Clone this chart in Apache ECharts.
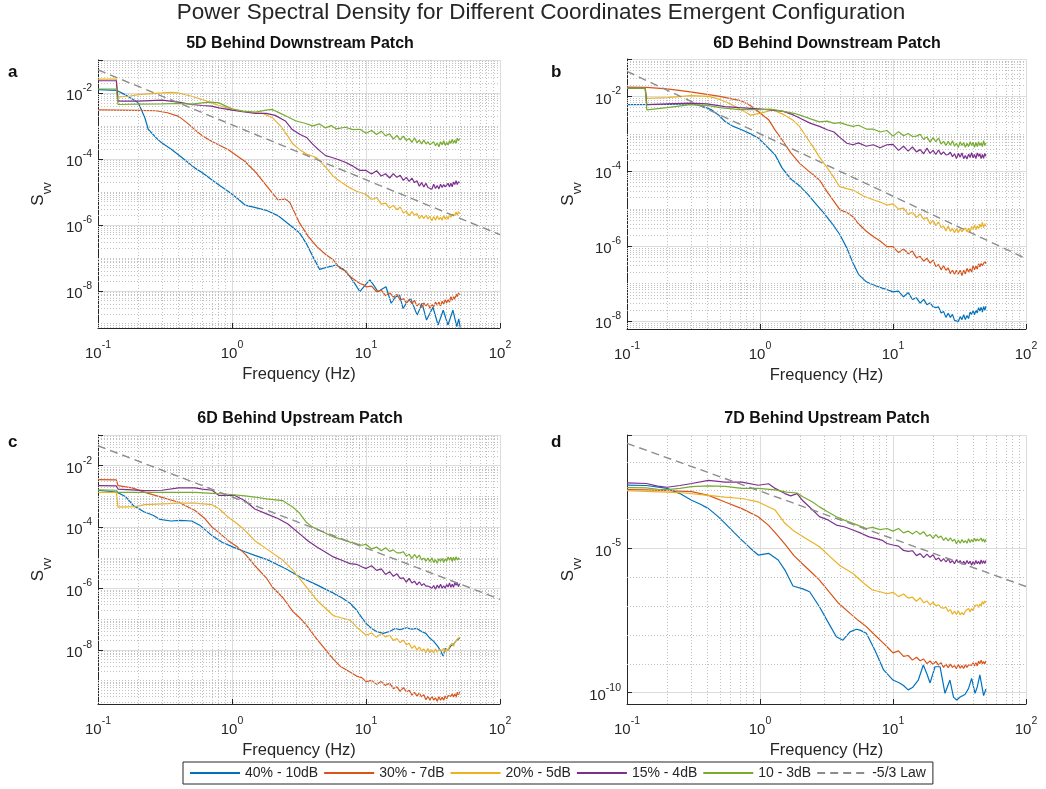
<!DOCTYPE html>
<html>
<head>
<meta charset="utf-8">
<script src="https://cdn.jsdelivr.net/npm/echarts@6/dist/echarts.min.js"></script>
<style>
html,body{margin:0;padding:0;background:#fff;}
#main{width:1046px;height:789px;}
</style>
</head>
<body>
<div id="main"></div>
<script>
// ---------------- DATA : [frequency (Hz), log10(S_vv)] ----------------
const SERIES_NAMES = ['40% - 10dB', '30% - 7dB', '20% - 5dB', '15% - 4dB', '10 - 3dB', '-5/3 Law'];
const PANEL_TITLES = ['5D Behind Downstream Patch', '6D Behind Downstream Patch', '6D Behind Upstream Patch', '7D Behind Upstream Patch'];
const PANEL_LETTERS = ['a', 'b', 'c', 'd'];
const X_TICK_EXPONENTS = [-1, 0, 1, 2];

// Panel a
const a_40 = [[0.1,-1.90],[0.137,-1.92],[0.159,-2.05],[0.2,-2.30],[0.224,-2.76],[0.237,-3.10],[0.27,-3.35],[0.3,-3.52],[0.35,-3.70],[0.4,-3.88],[0.46,-4.08],[0.53,-4.28],[0.6,-4.42],[0.71,-4.64],[0.82,-4.82],[0.94,-4.99],[1.1,-5.20],[1.25,-5.40],[1.5,-5.48],[1.8,-5.56],[2.2,-5.72],[2.6,-5.95],[3.2,-6.25],[3.6,-6.58],[4.0,-6.95],[4.5,-7.35],[5.0,-7.30],[6.0,-7.22],[6.8,-7.35],[7.6,-7.57],[8.3,-7.80],[9.0,-8.03],[10.0,-7.80],[10.7,-7.67],[11.5,-7.85],[12.3,-8.03],[13.2,-7.95],[14.1,-7.88],[15.4,-8.38],[16.5,-8.20],[17.8,-8.13],[18.9,-8.54],[20.2,-8.35],[21.5,-8.23],[24.1,-8.74],[26.2,-8.38],[28.3,-8.89],[31.6,-8.50],[34.5,-9.04],[37.7,-8.59],[40.9,-9.04],[44.5,-8.59],[47.6,-9.09],[49.2,-8.85],[50.5,-9.12]];
const a_30 = [[0.1,-2.51],[0.14,-2.52],[0.2,-2.53],[0.27,-2.54],[0.33,-2.60],[0.4,-2.71],[0.46,-2.90],[0.53,-3.12],[0.6,-3.30],[0.71,-3.47],[0.82,-3.60],[0.94,-3.72],[1.1,-3.92],[1.25,-4.08],[1.5,-4.40],[1.8,-4.80],[2.2,-5.24],[2.5,-5.22],[2.7,-5.32],[3.2,-5.95],[3.7,-6.35],[4.3,-6.66],[5.0,-6.90],[5.7,-7.06],[6.4,-7.32],[7.0,-7.40],[7.6,-7.57],[8.3,-7.68],[9.0,-7.78],[9.6,-7.82],[10,-7.88],[11,-7.86],[12,-8.03],[13,-7.98],[14,-8.15],[15,-8.06],[16,-8.19],[17,-8.11],[18,-8.29],[19,-8.24],[20,-8.37],[21,-8.27],[22,-8.39],[23,-8.29],[24,-8.46],[25,-8.39],[26,-8.51],[27,-8.37],[28,-8.46],[29,-8.39],[30,-8.53],[31,-8.41],[32,-8.49],[33,-8.34],[34,-8.44],[35,-8.34],[36,-8.46],[37,-8.32],[38,-8.41],[39,-8.27],[40,-8.36],[41,-8.27],[42,-8.35],[43,-8.18],[44,-8.29],[45,-8.18],[46,-8.26],[47,-8.10],[48,-8.18],[49,-8.07],[50,-8.12]];
const a_20 = [[0.1,-1.58],[0.137,-1.58],[0.141,-2.12],[0.17,-2.10],[0.2,-2.05],[0.25,-2.02],[0.3,-2.00],[0.35,-1.98],[0.4,-2.00],[0.5,-2.10],[0.6,-2.20],[0.7,-2.30],[0.8,-2.38],[1.0,-2.50],[1.2,-2.55],[1.45,-2.60],[1.7,-2.62],[2.0,-2.75],[2.3,-3.00],[2.6,-3.30],[2.85,-3.55],[3.2,-3.72],[3.6,-3.85],[4.3,-3.97],[5.0,-4.25],[5.7,-4.53],[6.5,-4.70],[7.6,-4.88],[8.5,-4.98],[10,-5.08],[11,-5.23],[12,-5.17],[13,-5.37],[14,-5.34],[15,-5.49],[16,-5.41],[17,-5.54],[18,-5.46],[19,-5.64],[20,-5.59],[21,-5.72],[22,-5.60],[23,-5.71],[24,-5.66],[25,-5.81],[26,-5.71],[27,-5.81],[28,-5.70],[29,-5.82],[30,-5.74],[31,-5.88],[32,-5.75],[33,-5.86],[34,-5.73],[35,-5.84],[36,-5.77],[37,-5.86],[38,-5.71],[39,-5.83],[40,-5.74],[41,-5.83],[42,-5.69],[43,-5.77],[44,-5.68],[45,-5.74],[46,-5.70],[47,-5.61],[48,-5.71],[49,-5.60],[50,-5.66]];
const a_15 = [[0.1,-1.63],[0.137,-1.63],[0.141,-2.25],[0.2,-2.25],[0.3,-2.22],[0.4,-2.28],[0.5,-2.35],[0.6,-2.38],[0.7,-2.40],[0.8,-2.45],[1.0,-2.52],[1.2,-2.57],[1.5,-2.62],[1.8,-2.62],[2.1,-2.68],[2.5,-2.85],[2.8,-3.10],[3.2,-3.25],[3.6,-3.35],[4.0,-3.55],[4.5,-3.75],[5.0,-3.90],[5.5,-3.95],[6.2,-4.02],[7,-4.10],[8,-4.22],[9,-4.35],[10,-4.35],[11,-4.46],[12,-4.36],[13,-4.52],[14,-4.45],[15,-4.58],[16,-4.45],[17,-4.56],[18,-4.50],[19,-4.65],[20,-4.56],[21,-4.68],[22,-4.58],[23,-4.72],[24,-4.66],[25,-4.83],[26,-4.72],[27,-4.85],[28,-4.74],[29,-4.87],[30,-4.82],[31,-4.92],[32,-4.77],[33,-4.90],[34,-4.81],[35,-4.91],[36,-4.77],[37,-4.87],[38,-4.78],[39,-4.85],[40,-4.82],[41,-4.74],[42,-4.85],[43,-4.74],[44,-4.85],[45,-4.70],[46,-4.78],[47,-4.66],[48,-4.78],[49,-4.69],[50,-4.72]];
const a_10 = [[0.1,-1.88],[0.137,-1.88],[0.141,-2.35],[0.2,-2.34],[0.3,-2.33],[0.4,-2.32],[0.5,-2.34],[0.6,-2.30],[0.7,-2.28],[0.8,-2.30],[0.9,-2.40],[1.0,-2.48],[1.2,-2.55],[1.5,-2.58],[1.8,-2.52],[2.0,-2.50],[2.3,-2.62],[2.6,-2.72],[3.0,-2.85],[3.5,-2.92],[4.0,-3.00],[4.5,-2.94],[5.0,-3.06],[5.5,-2.99],[6,-3.09],[7,-3.04],[8,-3.11],[9,-3.10],[10,-3.22],[11,-3.14],[12,-3.26],[13,-3.16],[14,-3.30],[15,-3.24],[16,-3.40],[17,-3.29],[18,-3.42],[19,-3.31],[20,-3.44],[21,-3.38],[22,-3.50],[23,-3.36],[24,-3.51],[25,-3.43],[26,-3.55],[27,-3.43],[28,-3.55],[29,-3.48],[30,-3.57],[31,-3.55],[32,-3.48],[33,-3.60],[34,-3.51],[35,-3.63],[36,-3.48],[37,-3.57],[38,-3.45],[39,-3.59],[40,-3.50],[41,-3.58],[42,-3.45],[43,-3.53],[44,-3.40],[45,-3.53],[46,-3.43],[47,-3.53],[48,-3.37],[49,-3.45],[50,-3.38]];
const a_law = [[0.1,-1.30],[100,-6.30]];

// Panel b
const b_40 = [[0.1,-2.22],[0.2,-2.21],[0.306,-2.20],[0.37,-2.26],[0.434,-2.36],[0.49,-2.50],[0.546,-2.67],[0.63,-2.80],[0.728,-2.89],[0.85,-3.00],[0.97,-3.11],[1.1,-3.30],[1.3,-3.56],[1.46,-3.90],[1.7,-4.20],[2.0,-4.40],[2.3,-4.62],[2.6,-4.85],[3.0,-5.10],[3.5,-5.40],[4.0,-5.70],[4.5,-6.05],[5.0,-6.45],[5.5,-6.75],[6.3,-6.95],[7,-7.02],[8,-7.10],[9,-7.16],[10,-7.22],[11,-7.20],[12,-7.35],[13,-7.24],[14,-7.42],[15,-7.38],[16,-7.52],[17,-7.42],[18,-7.56],[19,-7.51],[20,-7.62],[21,-7.64],[22,-7.62],[23,-7.78],[24,-7.74],[25,-7.90],[26,-7.79],[27,-7.90],[28,-7.82],[29,-7.98],[30,-7.93],[31,-8.01],[32,-7.88],[33,-7.96],[34,-7.83],[35,-7.96],[36,-7.85],[37,-7.93],[38,-7.76],[39,-7.82],[40,-7.72],[41,-7.83],[42,-7.71],[43,-7.78],[44,-7.64],[45,-7.73],[46,-7.63],[47,-7.76],[48,-7.61],[49,-7.71],[50,-7.60]];
const b_30 = [[0.1,-1.75],[0.14,-1.76],[0.2,-1.80],[0.3,-1.88],[0.41,-1.95],[0.5,-2.00],[0.6,-2.06],[0.73,-2.12],[0.85,-2.25],[0.97,-2.40],[1.16,-2.62],[1.3,-2.90],[1.46,-3.15],[1.7,-3.50],[1.98,-3.78],[2.3,-3.98],[2.8,-4.23],[3.2,-4.55],[3.6,-4.80],[4.0,-5.03],[4.5,-5.10],[5.0,-5.21],[5.5,-5.40],[6.3,-5.60],[7.1,-5.74],[8,-5.86],[9,-6.01],[10,-6.01],[11,-6.17],[12,-6.07],[13,-6.20],[14,-6.13],[15,-6.31],[16,-6.27],[17,-6.40],[18,-6.32],[19,-6.45],[20,-6.37],[21,-6.54],[22,-6.49],[23,-6.63],[24,-6.52],[25,-6.64],[26,-6.58],[27,-6.73],[28,-6.64],[29,-6.75],[30,-6.64],[31,-6.74],[32,-6.64],[33,-6.78],[34,-6.64],[35,-6.74],[36,-6.59],[37,-6.69],[38,-6.60],[39,-6.69],[40,-6.52],[41,-6.63],[42,-6.53],[43,-6.61],[44,-6.47],[45,-6.55],[46,-6.46],[47,-6.52],[48,-6.48],[49,-6.40],[50,-6.47]];
const b_20 = [[0.1,-1.78],[0.137,-1.78],[0.141,-2.05],[0.2,-2.03],[0.3,-1.98],[0.41,-2.00],[0.5,-2.08],[0.6,-2.20],[0.73,-2.36],[0.85,-2.50],[1.0,-2.45],[1.25,-2.36],[1.5,-2.48],[1.75,-2.62],[1.98,-2.80],[2.2,-3.05],[2.5,-3.34],[2.8,-3.62],[3.15,-3.87],[3.5,-4.10],[3.97,-4.41],[4.5,-4.46],[5.0,-4.50],[6,-4.66],[7.1,-4.76],[8,-4.82],[9,-4.90],[10,-4.87],[11,-5.01],[12,-4.98],[13,-5.15],[14,-5.09],[15,-5.23],[16,-5.14],[17,-5.28],[18,-5.23],[19,-5.40],[20,-5.31],[21,-5.45],[22,-5.35],[23,-5.50],[24,-5.46],[25,-5.59],[26,-5.46],[27,-5.60],[28,-5.53],[29,-5.64],[30,-5.53],[31,-5.63],[32,-5.54],[33,-5.61],[34,-5.58],[35,-5.51],[36,-5.62],[37,-5.52],[38,-5.62],[39,-5.47],[40,-5.55],[41,-5.43],[42,-5.56],[43,-5.46],[44,-5.54],[45,-5.41],[46,-5.49],[47,-5.36],[48,-5.50],[49,-5.40],[50,-5.46]];
const b_15 = [[0.1,-1.78],[0.137,-1.78],[0.141,-2.22],[0.2,-2.20],[0.3,-2.18],[0.4,-2.20],[0.546,-2.27],[0.7,-2.30],[0.97,-2.33],[1.2,-2.36],[1.5,-2.40],[1.8,-2.50],[2.0,-2.58],[2.4,-2.72],[2.8,-2.80],[3.2,-2.89],[3.6,-2.95],[4.0,-3.10],[4.5,-3.25],[5.0,-3.29],[5.5,-3.24],[6.3,-3.33],[7.1,-3.29],[8,-3.37],[9,-3.29],[10,-3.28],[11,-3.44],[12,-3.33],[13,-3.46],[14,-3.35],[15,-3.48],[16,-3.42],[17,-3.53],[18,-3.38],[19,-3.52],[20,-3.44],[21,-3.55],[22,-3.43],[23,-3.55],[24,-3.48],[25,-3.56],[26,-3.55],[27,-3.49],[28,-3.61],[29,-3.53],[30,-3.66],[31,-3.52],[32,-3.62],[33,-3.51],[34,-3.66],[35,-3.58],[36,-3.67],[37,-3.54],[38,-3.63],[39,-3.50],[40,-3.64],[41,-3.55],[42,-3.66],[43,-3.51],[44,-3.60],[45,-3.53],[46,-3.66],[47,-3.55],[48,-3.65],[49,-3.52],[50,-3.60]];
const b_10 = [[0.1,-1.78],[0.137,-1.78],[0.141,-2.36],[0.2,-2.30],[0.3,-2.22],[0.4,-2.24],[0.5,-2.30],[0.7,-2.35],[1.0,-2.35],[1.2,-2.34],[1.5,-2.40],[1.8,-2.45],[2.0,-2.50],[2.4,-2.60],[2.8,-2.68],[3.2,-2.66],[3.6,-2.72],[4.0,-2.70],[4.5,-2.76],[5.0,-2.80],[5.5,-2.77],[6.3,-2.87],[7.1,-2.87],[8,-2.95],[9,-2.91],[10,-3.06],[11,-2.94],[12,-3.05],[13,-2.99],[14,-3.07],[15,-3.06],[16,-3.01],[17,-3.15],[18,-3.08],[19,-3.22],[20,-3.10],[21,-3.21],[22,-3.11],[23,-3.27],[24,-3.20],[25,-3.31],[26,-3.20],[27,-3.30],[28,-3.18],[29,-3.33],[30,-3.25],[31,-3.36],[32,-3.21],[33,-3.31],[34,-3.23],[35,-3.36],[36,-3.25],[37,-3.34],[38,-3.21],[39,-3.31],[40,-3.22],[41,-3.36],[42,-3.23],[43,-3.34],[44,-3.21],[45,-3.31],[46,-3.24],[47,-3.34],[48,-3.18],[49,-3.31],[50,-3.24]];
const b_law = [[0.1,-1.33],[100,-6.33]];

// Panel c
const c_40 = [[0.1,-2.80],[0.138,-2.86],[0.16,-3.00],[0.184,-3.30],[0.22,-3.50],[0.26,-3.62],[0.29,-3.75],[0.35,-3.80],[0.41,-3.78],[0.5,-3.80],[0.58,-3.95],[0.72,-4.30],[0.85,-4.50],[1.02,-4.65],[1.25,-4.80],[1.48,-4.92],[1.81,-5.05],[2.5,-5.35],[3.3,-5.65],[4.3,-5.88],[5.7,-6.15],[6.6,-6.30],[7.6,-6.48],[8.5,-6.70],[9.3,-6.95],[10.1,-7.15],[11,-7.30],[12,-7.40],[13.4,-7.46],[15,-7.40],[16.5,-7.30],[17.9,-7.34],[20,-7.28],[22,-7.32],[23.9,-7.30],[26,-7.40],[28,-7.46],[30,-7.62],[32,-7.72],[34,-7.86],[36,-8.02],[37.6,-8.20],[39,-7.95],[41,-8.02],[43,-7.86],[45,-7.82],[47,-7.70],[50,-7.62]];
const c_30 = [[0.1,-2.45],[0.137,-2.46],[0.141,-2.65],[0.18,-2.72],[0.224,-2.87],[0.3,-3.03],[0.4,-3.19],[0.53,-3.46],[0.62,-3.70],[0.71,-4.00],[0.82,-4.22],[0.94,-4.44],[1.1,-4.65],[1.25,-4.87],[1.48,-5.25],[1.8,-5.65],[2.0,-5.95],[2.4,-6.30],[2.85,-6.75],[3.2,-6.95],[3.6,-7.20],[4.3,-7.65],[5.0,-8.00],[5.7,-8.30],[6.5,-8.55],[7.6,-8.72],[8.5,-8.85],[9.3,-8.90],[10,-9.03],[11,-8.99],[12,-9.12],[13,-9.03],[14,-9.16],[15,-9.08],[16,-9.26],[17,-9.20],[18,-9.35],[19,-9.23],[20,-9.36],[21,-9.31],[22,-9.47],[23,-9.38],[24,-9.50],[25,-9.40],[26,-9.53],[27,-9.46],[28,-9.62],[29,-9.51],[30,-9.64],[31,-9.51],[32,-9.63],[33,-9.56],[34,-9.67],[35,-9.52],[36,-9.64],[37,-9.54],[38,-9.64],[39,-9.50],[40,-9.59],[41,-9.49],[42,-9.55],[43,-9.51],[44,-9.43],[45,-9.53],[46,-9.43],[47,-9.54],[48,-9.38],[49,-9.46],[50,-9.36]];
const c_20 = [[0.1,-2.87],[0.137,-2.87],[0.141,-3.35],[0.19,-3.33],[0.224,-3.27],[0.3,-3.24],[0.4,-3.22],[0.53,-3.22],[0.71,-3.27],[0.8,-3.40],[0.94,-3.68],[1.1,-3.90],[1.25,-4.11],[1.48,-4.44],[1.8,-4.70],[2.4,-5.08],[2.85,-5.40],[3.3,-5.75],[4.3,-6.38],[5.0,-6.65],[5.7,-6.88],[6.5,-6.95],[7.6,-7.03],[8.5,-7.25],[10,-7.52],[11,-7.45],[12,-7.59],[13,-7.46],[14,-7.58],[15,-7.52],[16,-7.69],[17,-7.63],[18,-7.76],[19,-7.68],[20,-7.83],[21,-7.78],[22,-7.95],[23,-7.86],[24,-8.00],[25,-7.91],[26,-8.03],[27,-7.97],[28,-8.09],[29,-7.95],[30,-8.09],[31,-8.00],[32,-8.10],[33,-7.97],[34,-8.07],[35,-7.99],[36,-8.05],[37,-8.02],[38,-7.95],[39,-8.06],[40,-7.96],[41,-8.04],[42,-7.87],[43,-7.92],[44,-7.78],[45,-7.88],[46,-7.76],[47,-7.81],[48,-7.65],[49,-7.70],[50,-7.58]];
const c_15 = [[0.1,-2.65],[0.137,-2.66],[0.141,-2.76],[0.224,-2.81],[0.3,-2.80],[0.4,-2.72],[0.53,-2.72],[0.6,-2.76],[0.71,-2.80],[0.8,-2.97],[1.05,-2.97],[1.25,-3.14],[1.48,-3.41],[1.81,-3.57],[2.2,-3.72],[2.6,-3.89],[3.2,-4.22],[3.7,-4.45],[4.3,-4.65],[5.0,-4.82],[5.7,-4.97],[6.6,-5.08],[7.6,-5.19],[8.5,-5.21],[9.3,-5.29],[10,-5.35],[11,-5.26],[12,-5.41],[13,-5.36],[14,-5.54],[15,-5.45],[16,-5.60],[17,-5.52],[18,-5.67],[19,-5.65],[20,-5.79],[21,-5.67],[22,-5.82],[23,-5.76],[24,-5.88],[25,-5.78],[26,-5.90],[27,-5.84],[28,-5.92],[29,-5.92],[30,-5.87],[31,-5.99],[32,-5.90],[33,-6.02],[34,-5.89],[35,-5.98],[36,-5.86],[37,-5.99],[38,-5.91],[39,-5.99],[40,-5.87],[41,-5.95],[42,-5.82],[43,-5.96],[44,-5.86],[45,-5.96],[46,-5.81],[47,-5.89],[48,-5.81],[49,-5.94],[50,-5.84]];
const c_10 = [[0.1,-2.79],[0.137,-2.80],[0.141,-2.87],[0.3,-2.87],[0.53,-2.87],[0.71,-2.90],[0.94,-2.93],[1.25,-2.98],[1.48,-3.02],[1.81,-3.08],[2.4,-3.14],[2.85,-3.35],[3.2,-3.55],[3.6,-3.85],[4.0,-4.00],[4.5,-4.10],[5.0,-4.20],[5.7,-4.32],[6.6,-4.40],[7.6,-4.49],[8.5,-4.54],[9.3,-4.59],[10,-4.56],[11,-4.71],[12,-4.65],[13,-4.77],[14,-4.67],[15,-4.79],[16,-4.74],[17,-4.84],[18,-4.84],[19,-4.80],[20,-4.95],[21,-4.88],[22,-5.02],[23,-4.89],[24,-5.00],[25,-4.91],[26,-5.07],[27,-5.01],[28,-5.11],[29,-5.01],[30,-5.12],[31,-5.00],[32,-5.15],[33,-5.06],[34,-5.18],[35,-5.03],[36,-5.11],[37,-5.02],[38,-5.15],[39,-5.03],[40,-5.11],[41,-4.97],[42,-5.08],[43,-4.98],[44,-5.12],[45,-4.98],[46,-5.09],[47,-4.96],[48,-5.07],[49,-5.00],[50,-5.06]];
const c_law = [[0.1,-1.35],[100,-6.35]];

// Panel d
const d_40 = [[0.1,-2.81],[0.14,-2.82],[0.2,-2.92],[0.25,-3.10],[0.306,-3.33],[0.36,-3.48],[0.41,-3.62],[0.48,-3.88],[0.546,-4.13],[0.64,-4.45],[0.73,-4.71],[0.85,-5.00],[0.97,-5.23],[1.16,-5.17],[1.37,-5.40],[1.54,-5.75],[1.77,-6.30],[2.1,-6.40],[2.36,-6.50],[2.8,-7.02],[3.2,-7.50],[3.75,-8.06],[4.2,-8.18],[4.75,-7.89],[5.3,-7.80],[5.65,-7.83],[6.3,-7.94],[7.3,-8.52],[8.5,-9.21],[10,-9.56],[11.2,-9.66],[12,-9.75],[13,-9.90],[14,-9.82],[15.5,-9.56],[16.9,-9.04],[18,-9.35],[19,-9.66],[20.7,-9.10],[22.6,-9.10],[24.6,-10.02],[26.8,-9.56],[28.5,-10.15],[30.1,-10.25],[32,-10.15],[34.8,-10.06],[37,-9.85],[39,-9.50],[41.4,-10.02],[43,-9.80],[45,-9.38],[48,-10.10],[50,-9.87]];
const d_30 = [[0.1,-2.96],[0.14,-2.97],[0.2,-3.00],[0.306,-3.03],[0.41,-3.16],[0.546,-3.39],[0.73,-3.62],[0.97,-3.90],[1.16,-4.20],[1.3,-4.45],[1.54,-4.85],[1.8,-5.25],[2.1,-5.55],[2.4,-5.80],[2.8,-6.10],[3.3,-6.50],[3.9,-6.90],[4.75,-7.25],[5.5,-7.50],[6.3,-7.71],[7.3,-8.00],[8.5,-8.29],[9.2,-8.45],[10,-8.62],[11,-8.55],[12,-8.74],[13,-8.71],[14,-8.87],[15,-8.77],[16,-8.89],[17,-8.83],[18,-8.99],[19,-8.90],[20,-9.02],[21,-8.91],[22,-9.04],[23,-8.96],[24,-9.12],[25,-9.01],[26,-9.13],[27,-9.01],[28,-9.12],[29,-9.06],[30,-9.17],[31,-9.02],[32,-9.15],[33,-9.06],[34,-9.16],[35,-9.03],[36,-9.12],[37,-9.03],[38,-9.08],[39,-9.05],[40,-8.96],[41,-9.07],[42,-8.96],[43,-9.07],[44,-8.91],[45,-8.99],[46,-8.87],[47,-9.00],[48,-8.92],[49,-9.00],[50,-8.90]];
const d_20 = [[0.1,-3.00],[0.14,-3.02],[0.2,-3.05],[0.27,-3.08],[0.41,-3.16],[0.546,-3.22],[0.73,-3.27],[0.97,-3.39],[1.3,-3.67],[1.54,-4.13],[1.8,-4.40],[2.2,-4.65],[2.8,-4.94],[3.3,-5.25],[4.0,-5.60],[5.0,-5.87],[6,-6.20],[7,-6.44],[8,-6.50],[9,-6.57],[10,-6.52],[11,-6.67],[12,-6.58],[13,-6.72],[14,-6.69],[15,-6.83],[16,-6.71],[17,-6.88],[18,-6.82],[19,-6.96],[20,-6.86],[21,-6.99],[22,-6.95],[23,-7.05],[24,-7.07],[25,-7.03],[26,-7.18],[27,-7.12],[28,-7.28],[29,-7.17],[30,-7.29],[31,-7.17],[32,-7.30],[33,-7.22],[34,-7.30],[35,-7.17],[36,-7.23],[37,-7.08],[38,-7.20],[39,-7.08],[40,-7.16],[41,-6.99],[42,-7.05],[43,-6.95],[44,-7.05],[45,-6.92],[46,-6.99],[47,-6.84],[48,-6.93],[49,-6.82],[50,-6.88]];
const d_15 = [[0.1,-2.73],[0.14,-2.75],[0.17,-2.84],[0.2,-2.88],[0.25,-2.82],[0.306,-2.75],[0.41,-2.64],[0.546,-2.70],[0.73,-2.70],[0.97,-2.81],[1.16,-2.76],[1.3,-2.92],[1.54,-3.10],[1.7,-3.18],[1.9,-3.10],[2.1,-3.35],[2.4,-3.60],[2.8,-3.90],[3.2,-4.00],[3.75,-4.19],[4.3,-4.25],[5.0,-4.36],[5.8,-4.48],[6.6,-4.60],[7.5,-4.66],[8.3,-4.72],[9,-4.83],[10,-4.88],[11,-4.92],[12,-5.07],[13,-5.10],[14,-5.08],[15,-5.25],[16,-5.18],[17,-5.32],[18,-5.20],[19,-5.31],[20,-5.22],[21,-5.39],[22,-5.33],[23,-5.45],[24,-5.35],[25,-5.47],[26,-5.36],[27,-5.50],[28,-5.42],[29,-5.53],[30,-5.39],[31,-5.49],[32,-5.42],[33,-5.55],[34,-5.45],[35,-5.55],[36,-5.42],[37,-5.53],[38,-5.44],[39,-5.58],[40,-5.45],[41,-5.56],[42,-5.42],[43,-5.53],[44,-5.45],[45,-5.55],[46,-5.40],[47,-5.52],[48,-5.43],[49,-5.52],[50,-5.42]];
const d_10 = [[0.1,-2.89],[0.14,-2.90],[0.17,-2.95],[0.2,-2.96],[0.25,-2.92],[0.306,-2.86],[0.41,-2.83],[0.546,-2.85],[0.73,-2.92],[0.97,-2.92],[1.3,-2.97],[1.58,-3.05],[1.9,-3.08],[2.1,-3.21],[2.5,-3.40],[2.8,-3.56],[3.2,-3.72],[3.75,-3.90],[4.3,-4.02],[5.0,-4.13],[5.6,-4.22],[6.3,-4.31],[7,-4.27],[8,-4.35],[9,-4.31],[10,-4.40],[11,-4.31],[12,-4.46],[13,-4.40],[14,-4.50],[15,-4.40],[16,-4.51],[17,-4.42],[18,-4.58],[19,-4.52],[20,-4.65],[21,-4.52],[22,-4.63],[23,-4.57],[24,-4.72],[25,-4.63],[26,-4.74],[27,-4.63],[28,-4.75],[29,-4.68],[30,-4.84],[31,-4.71],[32,-4.82],[33,-4.69],[34,-4.80],[35,-4.73],[36,-4.82],[37,-4.66],[38,-4.79],[39,-4.69],[40,-4.78],[41,-4.65],[42,-4.75],[43,-4.67],[44,-4.74],[45,-4.72],[46,-4.64],[47,-4.76],[48,-4.67],[49,-4.79],[50,-4.68]];
const d_law = [[0.1,-1.36],[100,-6.32]];

// ---------------- LAYOUT / STYLE ----------------
const FONT = '"Liberation Sans", Arial, Helvetica, sans-serif';
const INK = '#262626';
const COLORS = ['#0072BD', '#D95319', '#EDB120', '#7E2F8E', '#77AC30', '#8c8c8c'];

const PANELS = [
  { curves: [a_40, a_30, a_20, a_15, a_10, a_law], box: [98, 60, 402, 268], yMin: -9.13, yMax: -1, step: 2, split: 5, titleAt: [300, 36], letterAt: [8, 64], yGap: 44 },
  { curves: [b_40, b_30, b_20, b_15, b_10, b_law], box: [627, 59, 399, 270], yMin: -8.21, yMax: -1, step: 2, split: 4, titleAt: [827, 36], letterAt: [551, 64], yGap: 43 },
  { curves: [c_40, c_30, c_20, c_15, c_10, c_law], box: [98, 435, 402, 269], yMin: -9.76, yMax: -1, step: 2, split: 5, titleAt: [300, 411], letterAt: [8, 434], yGap: 44 },
  { curves: [d_40, d_30, d_20, d_15, d_10, d_law], box: [627, 435, 399, 269], yMin: -10.39, yMax: -1.07, step: 5, split: 2, titleAt: [827, 411], letterAt: [551, 434], yGap: 43 }
];

function toLogPoints(arr) { return arr.map(p => [Math.log10(p[0]), p[1]]); }

const tickRich = {
  b: { fontSize: 15, color: INK, fontFamily: FONT, lineHeight: 21, verticalAlign: 'bottom' },
  s: { fontSize: 10.5, color: INK, fontFamily: FONT, verticalAlign: 'top' }
};
function powerLabel(exp) { return '{b|10}{s|' + exp + '}'; }

function minorGridLines(p) {
  const out = [];
  X_TICK_EXPONENTS.slice(0, -1).forEach(n => {
    for (let k = 2; k <= 9; k++) out.push({ xAxis: n + Math.log10(k) });
  });
  for (let n = Math.floor(p.yMin); n <= Math.ceil(p.yMax); n++) {
    if (n > p.yMin && n < p.yMax && n % p.step !== 0) out.push({ yAxis: n });
    if (p.step === 2) {
      for (let k = 2; k <= 9; k++) {
        const v = n + Math.log10(k);
        if (v > p.yMin && v < p.yMax) out.push({ yAxis: v });
      }
    }
  }
  return out;
}

const grid = [], xAxis = [], yAxis = [], series = [];
const title = [{
  text: 'Power Spectral Density for Different Coordinates Emergent Configuration',
  left: 541, top: 1, textAlign: 'center', padding: 0,
  textStyle: { fontSize: 22.5, fontWeight: 'normal', color: INK, fontFamily: FONT }
}];

PANELS.forEach((p, i) => {
  grid.push({ left: p.box[0], top: p.box[1], width: p.box[2], height: p.box[3], containLabel: false });
  xAxis.push({
    type: 'value', gridIndex: i, min: -1, max: 2, interval: 1,
    name: 'Frequency (Hz)', nameLocation: 'middle', nameGap: 38,
    nameTextStyle: { fontSize: 16.5, color: INK, fontFamily: FONT },
    axisLine: { show: true, onZero: false, lineStyle: { color: INK, width: 1 } },
    axisTick: { show: true, inside: true, length: 5, lineStyle: { color: INK } },
    axisLabel: { margin: 12, formatter: v => powerLabel(Math.round(v)), rich: tickRich, color: INK },
    splitLine: { show: true, lineStyle: { color: '#dcdcdc', width: 1 } }
  });
  yAxis.push({
    type: 'value', gridIndex: i, min: p.yMin, max: p.yMax, splitNumber: p.split,
    name: '{S|S}{v|vv}', nameLocation: 'middle', nameGap: p.yGap,
    nameTextStyle: {
      color: INK, fontFamily: FONT,
      rich: {
        S: { fontSize: 17, color: INK, fontFamily: FONT, lineHeight: 24, verticalAlign: 'top' },
        v: { fontSize: 12, color: INK, fontFamily: FONT, verticalAlign: 'bottom' }
      }
    },
    axisLine: { show: true, onZero: false, lineStyle: { color: INK, width: 1 } },
    axisTick: { show: true, inside: true, length: 5, lineStyle: { color: INK } },
    axisLabel: {
      margin: 6, rich: tickRich, color: INK,
      formatter: v => {
        const r = Math.round(v);
        if (Math.abs(v - r) > 1e-6 || r % p.step !== 0) return '';
        return powerLabel(r);
      }
    },
    splitLine: { show: true, lineStyle: { color: '#dcdcdc', width: 1 } }
  });
  // minor (dotted) grid drawn through the axes' own scales
  series.push({
    type: 'line', xAxisIndex: i, yAxisIndex: i, data: [], silent: true, z: 1,
    symbol: 'none', animation: false,
    markLine: {
      silent: true, symbol: ['none', 'none'], animation: false,
      label: { show: false }, emphasis: { disabled: true },
      lineStyle: { color: '#c2c2c2', width: 1, type: [1, 2] },
      data: minorGridLines(p)
    }
  });
  p.curves.forEach((c, j) => {
    const isLaw = j === 5;
    series.push({
      type: 'line', name: SERIES_NAMES[j], xAxisIndex: i, yAxisIndex: i,
      data: toLogPoints(c), symbol: 'none', showSymbol: false, clip: true,
      animation: false, z: 2 + j, emphasis: { disabled: true },
      itemStyle: { color: COLORS[j] },
      lineStyle: { color: COLORS[j], width: isLaw ? 1.4 : 1.2, type: isLaw ? [8, 5] : 'solid' }
    });
  });
  title.push({
    text: PANEL_TITLES[i], left: p.titleAt[0], top: p.titleAt[1], textAlign: 'center', padding: 0,
    textStyle: { fontSize: 16, fontWeight: 'bold', color: '#111', fontFamily: FONT }
  });
  title.push({
    text: PANEL_LETTERS[i], left: p.letterAt[0], top: p.letterAt[1], padding: 0,
    textStyle: { fontSize: 17, fontWeight: 'bold', color: '#111', fontFamily: FONT }
  });
});

const chart = echarts.init(document.getElementById('main'), null, { renderer: 'canvas' });
chart.setOption({
  backgroundColor: '#ffffff',
  animation: false,
  textStyle: { fontFamily: FONT },
  title: title,
  grid: grid, xAxis: xAxis, yAxis: yAxis,
  legend: {
    data: SERIES_NAMES, left: 183, top: 762, orient: 'horizontal',
    itemWidth: 50, itemHeight: 12, itemGap: 5,
    padding: [4, 7, 4, 6], borderColor: INK, borderWidth: 1, backgroundColor: '#fff',
    selectedMode: false,
    itemStyle: { opacity: 0, borderWidth: 0 },
    textStyle: { fontSize: 14, color: INK, fontFamily: FONT }
  },
  series: series
});
</script>
</body>
</html>
